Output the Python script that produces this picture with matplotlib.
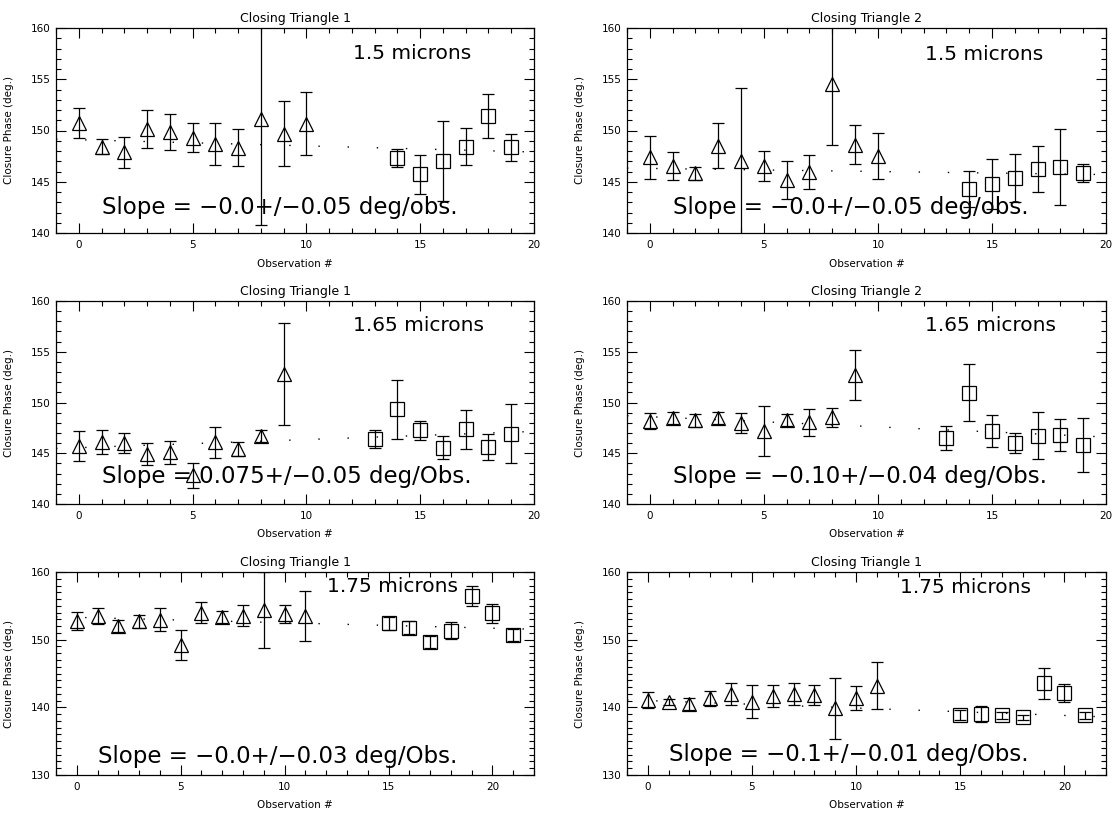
import matplotlib
matplotlib.use("Agg")
import matplotlib.pyplot as plt
from matplotlib.ticker import MultipleLocator

# ---------------- data ----------------
titles = ["Closing Triangle 1", "Closing Triangle 2",
          "Closing Triangle 1", "Closing Triangle 2",
          "Closing Triangle 1", "Closing Triangle 1"]
wavelengths = ["1.5 microns", "1.5 microns", "1.65 microns", "1.65 microns",
               "1.75 microns", "1.75 microns"]
slopes = ["Slope = \u22120.0+/\u22120.05 deg/obs.",
          "Slope = \u22120.0+/\u22120.05 deg/obs.",
          "Slope = 0.075+/\u22120.05 deg/Obs.",
          "Slope = \u22120.10+/\u22120.04 deg/Obs.",
          "Slope = \u22120.0+/\u22120.03 deg/Obs.",
          "Slope = \u22120.1+/\u22120.01 deg/Obs."]

# panel 1 (1.5 microns, triangle 1)
obs_p1_tri = [0, 1, 2, 3, 4, 5, 6, 7, 8, 9, 10]
cp_p1_tri = [150.72, 148.42, 147.86, 150.17, 149.83, 149.28, 148.65, 148.34, 151.1, 149.66, 150.67]
err_p1_tri = [1.44, 0.75, 1.54, 1.84, 1.75, 1.42, 2.06, 1.78, 10.3, 3.17, 3.07]
obs_p1_sq = [14, 15, 16, 17, 18, 19]
cp_p1_sq = [147.31, 145.74, 146.98, 148.40, 151.41, 148.37]
err_p1_sq = [0.88, 1.91, 3.9, 1.8, 2.19, 1.31]

# panel 2 (1.5 microns, triangle 2)
obs_p2_tri = [0, 1, 2, 3, 4, 5, 6, 7, 8, 9, 10]
cp_p2_tri = [147.39, 146.57, 145.82, 148.53, 147.04, 146.55, 145.13, 145.95, 154.58, 148.63, 147.5]
err_p2_tri = [2.12, 1.37, 0.65, 2.16, 7.1, 1.49, 1.86, 1.65, 5.98, 1.9, 2.24]
obs_p2_sq = [14, 15, 16, 17, 18, 19]
cp_p2_sq = [144.28, 144.8, 145.36, 146.2, 146.44, 145.82]
err_p2_sq = [1.78, 2.42, 2.32, 2.24, 3.73, 0.88]

# panel 3 (1.65 microns, triangle 1)
obs_p3_tri = [0, 1, 2, 3, 4, 5, 6, 7, 8, 9]
cp_p3_tri = [145.69, 146.11, 146.03, 144.89, 145.10, 142.83, 146.06, 145.46, 146.68, 152.83]
err_p3_tri = [1.47, 1.14, 1.0, 1.09, 1.14, 1.23, 1.49, 0.69, 0.6, 5.02]
obs_p3_sq = [13, 14, 15, 16, 17, 18, 19]
cp_p3_sq = [146.41, 149.33, 147.25, 145.56, 147.35, 145.62, 146.93]
err_p3_sq = [0.87, 2.92, 0.93, 1.14, 1.9, 1.31, 2.88]

# panel 4 (1.65 microns, triangle 2)
obs_p4_tri = [0, 1, 2, 3, 4, 5, 6, 7, 8, 9]
cp_p4_tri = [148.14, 148.48, 148.24, 148.48, 147.97, 147.22, 148.28, 148.04, 148.55, 152.68]
err_p4_tri = [0.78, 0.6, 0.62, 0.6, 1.01, 2.48, 0.57, 1.34, 0.93, 2.45]
obs_p4_sq = [13, 14, 15, 16, 17, 18, 19]
cp_p4_sq = [146.5, 150.96, 147.19, 146.0, 146.72, 146.79, 145.82]
err_p4_sq = [1.21, 2.79, 1.57, 0.96, 2.3, 1.58, 2.7]

# panel 5 (1.75 microns, triangle 1)
obs_p5_tri = [0, 1, 2, 3, 4, 5, 6, 7, 8, 9, 10, 11]
cp_p5_tri = [152.71, 153.47, 152.02, 152.73, 152.98, 149.21, 154.01, 153.35, 153.52, 154.38, 153.77, 153.47]
err_p5_tri = [1.33, 1.21, 0.94, 0.96, 1.7, 2.17, 1.5, 0.84, 1.55, 5.6, 1.3, 3.72]
obs_p5_sq = [15, 16, 17, 18, 19, 20, 21]
cp_p5_sq = [152.41, 151.77, 149.63, 151.35, 156.4, 153.87, 150.74]
err_p5_sq = [0.95, 1.0, 0.86, 1.2, 1.48, 1.4, 0.9]

# panel 6 (1.75 microns, triangle 1)
obs_p6_tri = [0, 1, 2, 3, 4, 5, 6, 7, 8, 9, 10, 11]
cp_p6_tri = [141.05, 140.78, 140.49, 141.34, 141.98, 140.85, 141.66, 141.98, 141.85, 139.88, 141.39, 143.22]
err_p6_tri = [1.15, 0.5, 0.83, 1.1, 1.59, 2.41, 1.66, 1.68, 1.46, 4.51, 1.78, 3.46]
obs_p6_sq = [15, 16, 17, 18, 19, 20, 21]
cp_p6_sq = [138.88, 139.02, 138.83, 138.54, 143.54, 142.12, 138.83]
err_p6_sq = [0.73, 1.2, 0.55, 0.4, 2.32, 1.39, 0.5]

# linear fits (intercept, slope)
fit_intercepts = [149.1, 146.3, 145.55, 148.6, 153.3, 141.0]
fit_slopes = [-0.06, -0.03, 0.08, -0.10, -0.08, -0.11]

# ---------------- layout ----------------
W, H = 1117, 813
panels = [
    (obs_p1_tri, cp_p1_tri, err_p1_tri, obs_p1_sq, cp_p1_sq, err_p1_sq),
    (obs_p2_tri, cp_p2_tri, err_p2_tri, obs_p2_sq, cp_p2_sq, err_p2_sq),
    (obs_p3_tri, cp_p3_tri, err_p3_tri, obs_p3_sq, cp_p3_sq, err_p3_sq),
    (obs_p4_tri, cp_p4_tri, err_p4_tri, obs_p4_sq, cp_p4_sq, err_p4_sq),
    (obs_p5_tri, cp_p5_tri, err_p5_tri, obs_p5_sq, cp_p5_sq, err_p5_sq),
    (obs_p6_tri, cp_p6_tri, err_p6_tri, obs_p6_sq, cp_p6_sq, err_p6_sq),
]
col_px = [(56, 534), (627, 1106)]
row_px = [(28, 233), (301, 504), (572, 775)]
xlims = [(-1, 20), (-1, 20), (-1, 20), (-1, 20), (-1, 22), (-1, 22)]
ylims = [(140, 160), (140, 160), (140, 160), (140, 160), (130, 160), (130, 160)]
ymajor = [5, 5, 5, 5, 10, 10]
slope_pos = [(1.0, 141.9), (1.0, 141.9), (1.0, 142.05), (1.0, 142.05), (1.0, 131.8), (1.0, 132.0)]
wl_pos = [(12.05, 156.95), (12.05, 156.9), (12.05, 157.0), (12.05, 157.0), (12.05, 157.0), (12.1, 156.9)]

plt.rcParams['font.family'] = ['DejaVu Sans']

fig = plt.figure(figsize=(W / 100, H / 100), dpi=100)

lw = 0.9
for i, (xt, yt, et, xs, ys, es) in enumerate(panels):
    r, c = divmod(i, 2)
    x0, x1 = col_px[c]
    y0, y1 = row_px[r]
    ax = fig.add_axes([x0 / W, 1 - y1 / H, (x1 - x0) / W, (y1 - y0) / H])
    ax.set_xlim(*xlims[i])
    ax.set_ylim(*ylims[i])

    # fit line
    xf = list(xlims[i])
    yf = [fit_intercepts[i] + fit_slopes[i] * v for v in xf]
    ax.plot(xf, yf, color='black', lw=1.0, linestyle=(0, (1, 20)), zorder=1)

    ax.errorbar(xt, yt, yerr=et, fmt='none', ecolor='black', elinewidth=lw,
                capsize=4.6, capthick=lw, zorder=2)
    ax.errorbar(xs, ys, yerr=es, fmt='none', ecolor='black', elinewidth=lw,
                capsize=4.6, capthick=lw, zorder=2)
    ax.plot(xt, yt, linestyle='none', marker='^', ms=10.5, mfc='none',
            mec='black', mew=lw, zorder=3)
    ax.plot(xs, ys, linestyle='none', marker='s', ms=10.5, mfc='none',
            mec='black', mew=lw, zorder=3)

    ax.xaxis.set_major_locator(MultipleLocator(5))
    ax.xaxis.set_minor_locator(MultipleLocator(1))
    ax.yaxis.set_major_locator(MultipleLocator(ymajor[i]))
    ax.yaxis.set_minor_locator(MultipleLocator(1))
    ax.tick_params(which='both', direction='in', top=True, right=True,
                   width=0.8, labelsize=7.5)
    ax.tick_params(which='major', length=7)
    ax.tick_params(which='minor', length=3.5)
    ax.tick_params(axis='x', pad=5)
    ax.tick_params(axis='y', pad=4)
    for sp in ax.spines.values():
        sp.set_linewidth(0.9)

    ax.set_title(titles[i], fontsize=9, pad=4)
    ax.set_xlabel("Observation #", fontsize=7.5)
    ax.set_ylabel("Closure Phase (deg.)", fontsize=7.5)
    ax.xaxis.set_label_coords(0.5, -0.125)
    ax.yaxis.set_label_coords(-0.088, 0.5)

    ax.text(slope_pos[i][0], slope_pos[i][1], slopes[i], fontsize=16.5,
            ha='left', va='baseline', zorder=4)
    ax.text(wl_pos[i][0], wl_pos[i][1], wavelengths[i], fontsize=14.5,
            ha='left', va='baseline', zorder=4)

fig.savefig("out.png", dpi=100)
